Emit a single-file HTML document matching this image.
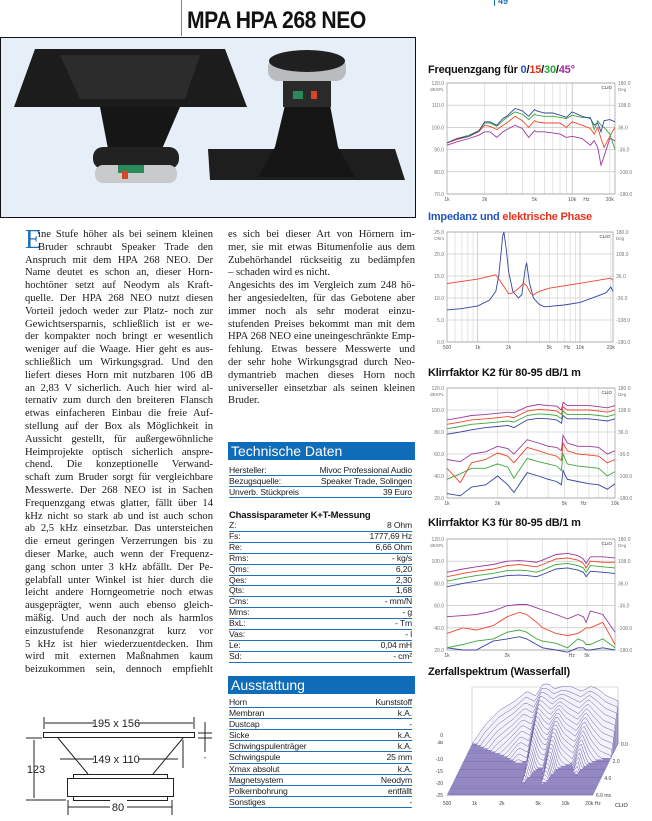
<!DOCTYPE html>
<html><head><meta charset="utf-8"><style>
*{margin:0;padding:0;box-sizing:border-box}
body{width:652px;height:821px;background:#fff;position:relative;overflow:hidden;font-family:"Liberation Sans",sans-serif;color:#111}
.abs{position:absolute}
.col{position:absolute;font-family:"Liberation Serif",serif;font-size:10.6px;line-height:12.8px;color:#1a1a1a}
.col div{text-align:justify;text-align-last:justify;white-space:nowrap;height:12.8px}
.col div.l{text-align-last:left}
.hdr{position:absolute;left:228px;width:187px;background:#0f6cb8;color:#fff;font-size:14px;padding-left:3px;line-height:18px}
.tbl{position:absolute;left:229px;width:183px;font-size:8.6px;letter-spacing:-0.15px;color:#222}
.tbl div{display:flex;justify-content:space-between;border-bottom:1px solid #1f6fb8;line-height:10px}
.ct{position:absolute;left:428px;font-size:11px;font-weight:bold;letter-spacing:-0.2px;white-space:nowrap}
</style></head><body>
<div class="abs" style="left:181px;top:0;width:1px;height:36px;background:#4f8fd0"></div>
<div class="abs" style="left:187px;top:7px;font-size:24px;font-weight:bold;letter-spacing:-0.5px;transform:scaleX(0.88);transform-origin:left">MPA HPA 268 NEO</div>
<div class="abs" style="left:494px;top:-4px;font-size:9px;font-weight:bold;color:#1f6fb8;border-left:1px solid #1f6fb8;padding-left:3px;line-height:10px">49</div>

<svg class="abs" style="left:0;top:37px" width="417" height="182">
<rect x="0.5" y="0.5" width="415" height="180" fill="#e6eef7" stroke="#111"/>
<polygon points="35,12 225,12 247,70 14,70" fill="#1c1c1c"/>
<polygon points="60,18 200,18 185,62 80,62" fill="#2c2c2c"/>
<polygon points="100,70 180,70 162,112 108,112" fill="#161616"/>
<rect x="93" y="110" width="86" height="22" rx="10" fill="#222"/>
<rect x="95" y="128" width="82" height="18" rx="8" fill="#c8cacc"/>
<rect x="118" y="128" width="26" height="8" fill="#2a8a5a"/>
<rect x="122" y="134" width="6" height="8" fill="#d8442a"/>
<polygon points="208,112 395,112 405,143 210,143" fill="#1e1e1e"/>
<polygon points="285,68 330,68 338,110 355,140 258,140 275,110" fill="#151515"/>
<rect x="268" y="20" width="78" height="24" rx="10" fill="#b9bcbf"/>
<ellipse cx="307" cy="24" rx="38" ry="11" fill="#202020"/>
<rect x="283" y="44" width="48" height="26" fill="#2a2a2a"/>
<rect x="293" y="54" width="10" height="8" fill="#2a8a5a"/><rect x="311" y="54" width="6" height="8" fill="#d8442a"/>
</svg>

<div class="abs" style="left:25px;top:226px;font-family:'Liberation Serif',serif;font-size:27px;line-height:27px;color:#1f6fb8">E</div>
<div class="col" style="left:25px;top:229px;width:188px">
<div style="margin-left:13px">ine Stufe höher als bei seinem kleinen</div>
<div style="margin-left:13px">Bruder schraubt Speaker Trade den</div>
<div>Anspruch mit dem HPA 268 NEO. Der</div>
<div>Name deutet es schon an, dieser Horn-</div>
<div>hochtöner setzt auf Neodym als Kraft-</div>
<div>quelle. Der HPA 268 NEO nutzt diesen</div>
<div>Vorteil jedoch weder zur Platz- noch zur</div>
<div>Gewichtsersparnis, schließlich ist er we-</div>
<div>der kompakter noch bringt er wesentlich</div>
<div>weniger auf die Waage. Hier geht es aus-</div>
<div>schließlich um Wirkungsgrad. Und den</div>
<div>liefert dieses Horn mit nutzbaren 106 dB</div>
<div>an 2,83 V sicherlich. Auch hier wird al-</div>
<div>ternativ zum durch den breiteren Flansch</div>
<div>etwas einfacheren Einbau die freie Auf-</div>
<div>stellung auf der Box als Möglichkeit in</div>
<div>Aussicht gestellt, für außergewöhnliche</div>
<div>Heimprojekte optisch sicherlich anspre-</div>
<div>chend. Die konzeptionelle Verwand-</div>
<div>schaft zum Bruder sorgt für vergleichbare</div>
<div>Messwerte. Der 268 NEO ist in Sachen</div>
<div>Frequenzgang etwas glatter, fällt über 14</div>
<div>kHz nicht so stark ab und ist auch schon</div>
<div>ab 2,5 kHz einsetzbar. Das untersteichen</div>
<div>die erneut geringen Verzerrungen bis zu</div>
<div>dieser Marke, auch wenn der Frequenz-</div>
<div>gang schon unter 3 kHz abfällt. Der Pe-</div>
<div>gelabfall unter Winkel ist hier durch die</div>
<div>leicht andere Horngeometrie noch etwas</div>
<div>ausgeprägter, wenn auch ebenso gleich-</div>
<div>mäßig. Und auch der noch als harmlos</div>
<div>einzustufende Resonanzgrat kurz vor</div>
<div>5 kHz ist hier wiederzuentdecken. Ihm</div>
<div>wird mit externen Maßnahmen kaum</div>
<div>beizukommen sein, dennoch empfiehlt</div>
</div>
<div class="col" style="left:228px;top:229px;width:187px">
<div>es sich bei dieser Art von Hörnern im-</div>
<div>mer, sie mit etwas Bitumenfolie aus dem</div>
<div>Zubehörhandel rückseitig zu bedämpfen</div>
<div class="l">– schaden wird es nicht.</div>
<div>Angesichts des im Vergleich zum 248 hö-</div>
<div>her angesiedelten, für das Gebotene aber</div>
<div>immer noch als sehr moderat einzu-</div>
<div>stufenden Preises bekommt man mit dem</div>
<div>HPA 268 NEO eine uneingeschränkte Emp-</div>
<div>fehlung. Etwas bessere Messwerte und</div>
<div>der sehr hohe Wirkungsgrad durch Neo-</div>
<div>dymantrieb machen dieses Horn noch</div>
<div>universeller einsetzbar als seinen kleinen</div>
<div class="l">Bruder.</div>
</div>

<div class="hdr" style="top:442px">Technische Daten</div>
<div class="tbl" style="top:465px">
<div><span>Hersteller:</span><span>Mivoc Professional Audio</span></div>
<div><span>Bezugsquelle:</span><span>Speaker Trade, Solingen</span></div>
<div><span>Unverb. Stückpreis</span><span>39 Euro</span></div>
</div>
<div class="abs" style="left:229px;top:510px;font-size:9.5px;font-weight:bold;letter-spacing:-0.2px">Chassisparameter K+T-Messung</div>
<div class="tbl" style="top:521px">
<div style="line-height:9.9px"><span>Z:</span><span>8 Ohm</span></div>
<div style="line-height:9.9px"><span>Fs:</span><span>1777,69 Hz</span></div>
<div style="line-height:9.9px"><span>Re:</span><span>6,66 Ohm</span></div>
<div style="line-height:9.9px"><span>Rms:</span><span>- kg/s</span></div>
<div style="line-height:9.9px"><span>Qms:</span><span>6,20</span></div>
<div style="line-height:9.9px"><span>Qes:</span><span>2,30</span></div>
<div style="line-height:9.9px"><span>Qts:</span><span>1,68</span></div>
<div style="line-height:9.9px"><span>Cms:</span><span>- mm/N</span></div>
<div style="line-height:9.9px"><span>Mms:</span><span>- g</span></div>
<div style="line-height:9.9px"><span>BxL:</span><span>- Tm</span></div>
<div style="line-height:9.9px"><span>Vas:</span><span>- l</span></div>
<div style="line-height:9.9px"><span>Le:</span><span>0,04 mH</span></div>
<div style="line-height:9.9px"><span>Sd:</span><span>- cm²</span></div>
</div>
<div class="hdr" style="top:676px">Ausstattung</div>
<div class="tbl" style="top:697px">
<div style="line-height:10.1px"><span>Horn</span><span>Kunststoff</span></div>
<div style="line-height:10.1px"><span>Membran</span><span>k.A.</span></div>
<div style="line-height:10.1px"><span>Dustcap</span><span>-</span></div>
<div style="line-height:10.1px"><span>Sicke</span><span>k.A.</span></div>
<div style="line-height:10.1px"><span>Schwingspulenträger</span><span>k.A.</span></div>
<div style="line-height:10.1px"><span>Schwingspule</span><span>25 mm</span></div>
<div style="line-height:10.1px"><span>Xmax absolut</span><span>k.A.</span></div>
<div style="line-height:10.1px"><span>Magnetsystem</span><span>Neodym</span></div>
<div style="line-height:10.1px"><span>Polkernbohrung</span><span>entfällt</span></div>
<div style="line-height:10.1px"><span>Sonstiges</span><span>-</span></div>
</div>

<svg class="abs" style="left:0;top:0" width="230" height="821" font-family="Liberation Sans, sans-serif" font-size="11">
<g stroke="#222" fill="none" stroke-width="1">
<line x1="45" y1="723" x2="193" y2="723"/><line x1="44" y1="717" x2="44" y2="729"/><line x1="194" y1="717" x2="194" y2="729"/>
<rect x="43.5" y="732.5" width="151" height="5" fill="#fff"/>
<line x1="58" y1="738" x2="88" y2="774"/><line x1="183" y1="738" x2="153" y2="774"/>
<line x1="60" y1="759" x2="178" y2="759"/><line x1="183" y1="740" x2="183" y2="768"/>
<rect x="73.5" y="774.5" width="94" height="4" fill="#fff"/>
<rect x="67.5" y="778.5" width="106" height="18" fill="#fff"/>
<rect x="73.5" y="796.5" width="94" height="4" fill="#fff"/>
<line x1="26" y1="738" x2="42" y2="738"/><line x1="26" y1="800" x2="66" y2="800"/>
<line x1="34" y1="740" x2="34" y2="798"/>
<line x1="68" y1="807" x2="172" y2="807"/><line x1="68" y1="800" x2="68" y2="815"/><line x1="172" y1="800" x2="172" y2="815"/>
<line x1="198" y1="733" x2="212" y2="733"/><line x1="198" y1="738" x2="212" y2="738"/><line x1="205" y1="722" x2="205" y2="752"/>
</g>
<g fill="#fff"><rect x="94" y="716" width="44" height="14"/><rect x="94" y="752" width="44" height="14"/><rect x="110" y="800" width="17" height="14"/></g>
<text x="116" y="727" text-anchor="middle" fill="#222">195 x 156</text>
<text x="116" y="763" text-anchor="middle" fill="#222">149 x 110</text>
<text x="36" y="773" text-anchor="middle" fill="#222">123</text>
<text x="118" y="811" text-anchor="middle" fill="#222">80</text>
<text x="205" y="760" text-anchor="middle" fill="#222" font-size="8">-</text>
</svg>

<div class="ct" style="top:64px">Frequenzgang für <span style="color:#2255c0">0</span>/<span style="color:#e8321e">15</span>/<span style="color:#2aa83a">30</span>/<span style="color:#a0289a">45°</span></div>
<div class="ct" style="top:211px"><span style="color:#2255c0">Impedanz und </span><span style="color:#e8321e">elektrische Phase</span></div>
<div class="ct" style="top:367px">Klirrfaktor K2 für 80-95 dB/1 m</div>
<div class="ct" style="top:517px">Klirrfaktor K3 für 80-95 dB/1 m</div>
<div class="ct" style="top:666px">Zerfallspektrum (Wasserfall)</div>

<svg id="charts" class="abs" style="left:0;top:0" width="652" height="821" font-family="Liberation Sans, sans-serif"></svg>

<script>
// ---- Frequenzgang ----
const frFreq = [1000,1200,1500,1800,2000,2200,2500,2800,3000,3500,4000,4500,5000,5200,6000,7000,8000,9000,10000,12000,14000,15000,16000,17000,18000,20000,22000];
const fr0  = [93,95,96,98.5,102.5,102.5,101,104,105,108.5,107.5,105,108,107.5,106.5,106.5,105.5,104.5,107,105,104,101,102,98,103,103.5,102.5];
const fr15 = [93,94.5,96,98,101,100.5,99,101,102,105,103,100,103,102.5,102,102,102,100,102.5,101,99.5,97,100,95,91,96,100];
const fr30 = [93,95,96.5,98.5,102,102,100.5,103,104.5,107,106,103.5,106,105.5,105,105,104.5,104,105.5,104.5,104.5,99,103,101,100,97,90];
const fr45 = [92,93.5,95,96.5,98,98,95.5,98,99,101,99.5,95.5,98.5,98,98,97.5,97,95.5,96,95,92,94,91,83,87,95,94];
const frYTicks = [70,80,90,100,110,120];
const phaseLabels = ["-180.0","-108.0","-36.0","36.0","108.0","180.0"];
// ---- Impedanz ----
const zFreq = [500,700,1000,1300,1500,1600,1700,1750,1800,1900,2000,2200,2500,2700,2900,3000,3200,3500,4000,4500,5000,7000,10000,15000,18000,20000,21000];
const zVal  = [7.3,7.6,8.2,9.5,11.5,15,21,24,25,21,16,11.5,10,10.8,16.5,18,13.5,10,8.5,8,8.1,8.4,9,10.5,11.2,12.5,11.5];
const phFreq = [500,1000,1500,1700,2000,2200,2600,2800,3000,3300,3500,4000,5000,7000,10000,15000,20000,21000];
const phDeg  = [11,26,40,14,-22,-19,0,13,4,-22,-26,-14,-4,4,12,22,29,22];
const zYTicks = [0,5,10,15,20,25];
// ---- K2 ----
const k2Freq = [1000,1200,1400,1700,2000,2300,2500,3000,3500,4000,4500,4800,4900,5200,6000,7000,8000,9000,10000];
const k2F95 = [91,93,95,96,97,98,97.5,103,105,104,103.5,100,107,104,104,104,103,102,104];
const k2F90 = [87,89,91,92,93,94,93,99,100.5,100,99,96,103,100,100,100,99,98,100];
const k2F85 = [83,85,87,88,89,90,89,95,96.5,96,95,92,99,96,96,96,95,94,96];
const k2F80 = [78,80,82,84,85,86,84,91,92.5,92,91,88,95,92,92,92,91,90,92];
const k2H95 = [55,53,60,62,67,65,60,73,70,67,66,63,77,70,67,67,66,60,63];
const k2H90 = [47,34,52,55,61,58,52,66,63,60,58,54,70,63,60,59,58,52,55];
const k2H85 = [37,42,47,47,51,48,38,56,53,51,49,45,60,51,49,48,47,40,44];
const k2H80 = [24,22,30,32,40,32,25,43,40,37,35,32,45,37,35,33,32,28,33];
const kYTicks = [20,40,60,80,100,120];
// ---- K3 ----
const k3Freq = [1000,1200,1400,1700,2000,2300,2500,2800,3000,3500,4000,4500,4800,4950,5200,6000,6900];
const k3F95 = [90,93,95,97,100,100.5,100,99,101,106,107,105,102,98,104,104,103];
const k3F90 = [86,89,91,93,96,97,96,95,97,102,103,101,98,94,100,99,99];
const k3F85 = [82,85,87,89,91.5,92,91.5,90,92,97,98,96,94,90,96,95,94];
const k3F80 = [77,80,82,85,87,87.5,87,86,88,93,94,92,90,86,91,90,89];
const k3H95 = [50,51,52,55,60,61,61,58,56,52,48,52,50,45,55,52,36];
const k3H90 = [35,40,38,42,50,54,52,45,40,35,33,35,38,40,40,45,25];
const k3H85 = [22,25,28,30,36,38,36,30,28,26,22,30,28,25,25,30,22];
const k3H80 = [22,20,20,28,30,32,30,25,22,20,18,22,22,20,20,22,20];
// ---- Wasserfall ----
const wfFreq = [500,700,1000,1500,2000,2500,3000,3500,4000,5000,6000,8000,10000,12000,15000,20000];
const wfLevel = [0,8,14,18,22,20,25,25,23,24,24,22,24,23,20,18];
const wfDecay = [16,14,12,10,9,9,5,8,8,4.5,8,9,6,9,10,10];
const wfXLabels = ["500","1k","2k","5k","10k","20k Hz"];
const wfXLabelFreq = [500,1000,2000,5000,10000,20000];
const wfYLabels = ["0","-10","-15","-20","-25"];
const wfYLabelVal = [0,-10,-15,-20,-25];

const NS="http://www.w3.org/2000/svg";
const svg=document.getElementById('charts');
function mk(tag,attrs,parent){const e=document.createElementNS(NS,tag);for(const k in attrs)e.setAttribute(k,attrs[k]);(parent||svg).appendChild(e);return e;}
function txt(x,y,s,size,anchor,fill,parent){const t=mk('text',{x:x,y:y,'font-size':size,'text-anchor':anchor||'start',fill:fill||'#666'},parent);t.textContent=s;return t;}

function chart(name,box,xmin,xmax,ymin,ymax,yTicks,yFmt,xLabels,unitL,series){
  const g=mk('g',{});
  
  
  const lx0=Math.log10(xmin),lx1=Math.log10(xmax);
  const X=f=>box.x+(Math.log10(f)-lx0)/(lx1-lx0)*box.w;
  const Y=v=>box.y+box.h-(v-ymin)/(ymax-ymin)*box.h;
  for(let d=100;d<=100000;d*=10)for(let m=1;m<10;m++){const f=d*m;if(f<=xmin||f>=xmax)continue;
    mk('line',{x1:X(f),x2:X(f),y1:box.y,y2:box.y+box.h,stroke:m==1?'#aaa':'#d4d4d4','stroke-width':0.6},g);}
  yTicks.forEach((v,i)=>{mk('line',{x1:box.x,x2:box.x+box.w,y1:Y(v),y2:Y(v),stroke:'#bbb','stroke-width':0.6},g);
    txt(box.x-3,Y(v)+2,yFmt(v),5,'end','#777',g);
    txt(box.x+box.w+3,Y(v)+2,phaseLabels[i],5,'start','#777',g);});
  mk('rect',{x:box.x,y:box.y,width:box.w,height:box.h,fill:'none',stroke:'#999','stroke-width':0.7},g);
  txt(box.x-3,box.y+8,unitL,4.5,'end','#777',g);
  txt(box.x+box.w+3,box.y+8,'Deg',4.5,'start','#777',g);
  txt(box.x+box.w-3,box.y+6,'CLIO',4.5,'end','#333',g);
  xLabels.forEach(l=>txt(X(l[0]),box.y+box.h+7,l[1],5,'middle','#555',g));
  series.forEach(s=>{const p=mk('polyline',{fill:'none',stroke:s.c,'stroke-width':0.9,
     points:s.f.map((f,i)=>X(f).toFixed(1)+','+Y(s.v[i]).toFixed(1)).join(' ')},g);
    
    });
  return {X,Y};
}
const B='#3445a0',R='#f0452a',G='#3aa83a',P='#9a3a9e';
chart('frequency-response-chart',{x:447,y:83,w:168,h:111},1000,22000,70,120,frYTicks,v=>v.toFixed(1),[[1000,'1k'],[2000,'2k'],[5000,'5k'],[10000,'10k'],[13000,'Hz'],[20000,'20k']],'dBSPL',
 [{n:'fr-45deg',c:P,f:frFreq,v:fr45},{n:'fr-15deg',c:R,f:frFreq,v:fr15},{n:'fr-30deg',c:G,f:frFreq,v:fr30},{n:'fr-0deg',c:B,f:frFreq,v:fr0}]);
const zc=chart('impedance-chart',{x:447,y:232,w:166,h:110},500,21000,0,25,zYTicks,v=>v.toFixed(1),[[500,'500'],[1000,'1k'],[2000,'2k'],[5000,'5k'],[7500,'Hz'],[10000,'10k'],[20000,'20k']],'Ohm',
 [{n:'impedance-curve',c:B,f:zFreq,v:zVal}]);
(function(){const p=mk('polyline',{fill:'none',stroke:R,'stroke-width':0.9,points:phFreq.map((f,i)=>zc.X(f).toFixed(1)+','+zc.Y(phDeg[i]/14.4+12.5).toFixed(1)).join(' ')});
 
 })();
chart('k2-chart',{x:447,y:388,w:168,h:110},1000,10000,20,120,kYTicks,v=>v.toFixed(1),[[1000,'1k'],[2000,'2k'],[5000,'5k'],[6500,'Hz'],[10000,'10k']],'dBSPL',
 [{n:'k2-fund-80',c:B,f:k2Freq,v:k2F80},{n:'k2-fund-85',c:G,f:k2Freq,v:k2F85},{n:'k2-fund-90',c:R,f:k2Freq,v:k2F90},{n:'k2-fund-95',c:P,f:k2Freq,v:k2F95},
  {n:'k2-harm-80',c:B,f:k2Freq,v:k2H80},{n:'k2-harm-85',c:G,f:k2Freq,v:k2H85},{n:'k2-harm-90',c:R,f:k2Freq,v:k2H90},{n:'k2-harm-95',c:P,f:k2Freq,v:k2H95}]);
chart('k3-chart',{x:447,y:539,w:168,h:111},1000,6900,20,120,kYTicks,v=>v.toFixed(1),[[1000,'1k'],[2000,'2k'],[4200,'Hz'],[5000,'5k']],'dBSPL',
 [{n:'k3-fund-80',c:B,f:k3Freq,v:k3F80},{n:'k3-fund-85',c:G,f:k3Freq,v:k3F85},{n:'k3-fund-90',c:R,f:k3Freq,v:k3F90},{n:'k3-fund-95',c:P,f:k3Freq,v:k3F95},
  {n:'k3-harm-80',c:B,f:k3Freq,v:k3H80},{n:'k3-harm-85',c:G,f:k3Freq,v:k3H85},{n:'k3-harm-90',c:R,f:k3Freq,v:k3H90},{n:'k3-harm-95',c:P,f:k3Freq,v:k3H95}]);

// Waterfall
(function(){
 const g=mk('g',{});
 
 
 const x0=447,x1=593,yF=795,dx=25,dy=-51,sc=2.4;
 const lx0=Math.log10(500),lx1=Math.log10(20000);
 const X=f=>x0+(Math.log10(f)-lx0)/(lx1-lx0)*(x1-x0);
 const interp=(arr,f)=>{const l=Math.log10(f);for(let i=0;i<wfFreq.length-1;i++){const a=Math.log10(wfFreq[i]),b=Math.log10(wfFreq[i+1]);if(l<=b){const t=(l-a)/(b-a);return arr[i]+(arr[i+1]-arr[i])*t;}}return arr[arr.length-1];};
 mk('polyline',{points:`${x0+dx},${yF+dy} ${x0+dx},${yF+dy-57} ${x1+dx},${yF+dy-57} ${x1+dx},${yF+dy}`,fill:'none',stroke:'#bbb','stroke-width':0.6},g);
 mk('polygon',{points:`${x0},${yF} ${x1},${yF} ${x1+dx},${yF+dy} ${x0+dx},${yF+dy}`,fill:'#9d92c8'},g);
 const N=32;
 for(let n=0;n<=N;n++){
   const d=n/N,t=6*d,ox=dx*(1-d),oy=yF+dy*(1-d);
   const pts=[];
   for(let k=0;k<=60;k++){const f=500*Math.pow(40,k/60);const lv=Math.max(0,interp(wfLevel,f)-interp(wfDecay,f)*t);pts.push((X(f)+ox).toFixed(1)+','+(oy-lv*sc).toFixed(1));}
   pts.push((x1+ox).toFixed(1)+','+oy.toFixed(1));pts.push((x0+ox).toFixed(1)+','+oy.toFixed(1));
   mk('polygon',{points:pts.join(' '),fill:'#f3f1fa',stroke:'#5b4d98','stroke-width':0.45},g);
   mk('line',{x1:x0+ox,x2:x1+ox,y1:oy,y2:oy,stroke:'#8f84c0','stroke-width':0.8},g);
 }
 wfXLabels.forEach((s,i)=>txt(X(wfXLabelFreq[i]),yF+10,s,5,'middle','#444',g));
 wfYLabels.forEach((s,i)=>txt(x0-4,yF-(25+wfYLabelVal[i])*sc+2,s,5,'end','#444',g));
 txt(x0-4,yF-25*sc+9,'dB',4.5,'end','#444',g);
 ['0.0','2.0','4.0','6.0 ms'].forEach((s,i)=>{const d=i/3;txt(x1+dx*(1-d)+3,yF+dy*(1-d)+2,s,5,'start','#444',g);});
 txt(x1+22,yF+12,'CLIO',5.5,'start','#222',g);
})();
</script>
</body></html>
